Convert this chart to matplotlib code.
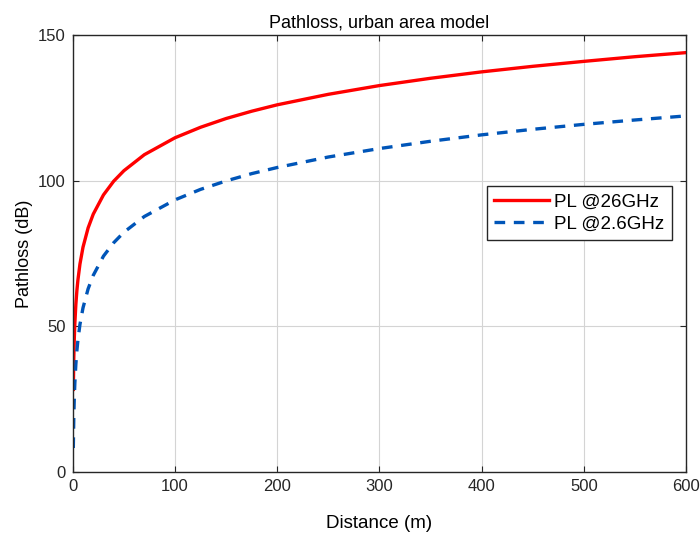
import numpy as np
import matplotlib
matplotlib.use('Agg')
import matplotlib.pyplot as plt

plt.rcParams['font.family'] = ['Liberation Sans', 'DejaVu Sans']

# distances (m) and path loss values (dB)
distance_m = [0.5, 1, 1.5, 2, 3, 4, 5, 7, 10, 15, 20, 30, 40, 50, 70, 100,
              125, 150, 175, 200, 250, 300, 350, 400, 450, 500, 550, 600]
pl_26ghz = [28.4, 39.7, 46.3, 51.0, 57.6, 62.3, 65.9, 71.4, 77.2, 83.8, 88.5,
            95.1, 99.8, 103.4, 108.9, 114.7, 118.3, 121.3, 123.8, 126.0, 129.6,
            132.6, 135.1, 137.3, 139.2, 140.9, 142.5, 143.9]
pl_2_6ghz = [8.3, 19.4, 25.9, 30.5, 37.1, 41.7, 45.3, 50.7, 56.4, 62.9, 67.5,
             74.1, 78.7, 82.3, 87.7, 93.4, 97.0, 99.9, 102.4, 104.5, 108.1,
             111.0, 113.5, 115.7, 117.6, 119.3, 120.8, 122.2]

fig = plt.figure(figsize=(7.0, 5.36), dpi=100)
ax = fig.add_axes([0.104, 0.119, 0.876, 0.816])

ax.plot(distance_m, pl_26ghz, color='#ff0000', lw=2.4, label='PL @26GHz')
ax.plot(distance_m, pl_2_6ghz, color='#0055b8', lw=2.4, ls=(0, (3.2, 2.6)),
        label='PL @2.6GHz')

ax.set_xlim(0, 600)
ax.set_ylim(0, 150)
ax.set_xticks(np.arange(0, 601, 100))
ax.set_yticks([0, 50, 100, 150])
ax.grid(True, color='#d4d4d4', lw=0.8)
ax.set_axisbelow(True)
ax.tick_params(direction='in', top=True, right=True, labelsize=12,
               length=4, colors='#262626', pad=5)
for s in ax.spines.values():
    s.set_color('#262626')
    s.set_linewidth(1.0)

ax.set_title('Pathloss, urban area model', fontsize=13, pad=5)
ax.set_xlabel('Distance (m)', fontsize=13.5, labelpad=15)
ax.set_ylabel('Pathloss (dB)', fontsize=13, labelpad=4)

leg = ax.legend(loc='upper right', bbox_to_anchor=(0.977, 0.654),
                fontsize=13.5, fancybox=False, framealpha=1,
                edgecolor='#262626', handlelength=2.9, borderpad=0.4,
                labelspacing=0.25, handletextpad=0.3, borderaxespad=0)
leg.get_frame().set_linewidth(1.0)

fig.savefig('out.png', dpi=100)
